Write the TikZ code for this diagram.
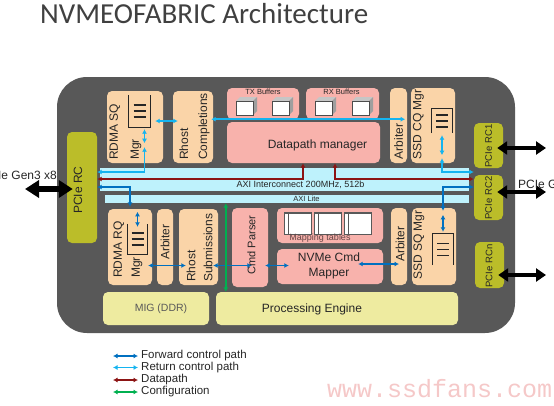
\documentclass[tikz,border=0pt]{standalone}
\usepackage{fontspec}
\setmainfont{Liberation Sans}
\newfontfamily\titlefont{Carlito}
\newfontfamily\wmfont{Liberation Mono}
\usetikzlibrary{arrows.meta,positioning,fit}
\definecolor{bodygray}{RGB}{88,88,88}
\definecolor{peach}{RGB}{250,212,168}
\definecolor{rose}{RGB}{248,178,172}
\definecolor{olive}{RGB}{187,189,41}
\definecolor{cream}{RGB}{238,235,160}
\definecolor{axiblue}{RGB}{190,242,252}
\definecolor{retblue}{RGB}{20,180,240}
\definecolor{fwdblue}{RGB}{0,112,192}
\definecolor{datred}{RGB}{140,20,20}
\definecolor{cfggreen}{RGB}{0,176,80}
\definecolor{wmpink}{RGB}{245,200,200}
\tikzstyle{blk}=[inner sep=0pt,rounded corners=5pt]
\tikzstyle{mgr}=[blk,fill=peach]
\tikzstyle{dp}=[blk,fill=rose]
\tikzstyle{rcbox}=[blk,fill=olive]
\tikzstyle{ddr}=[blk,fill=cream]
\tikzstyle{bar}=[inner sep=0pt,fill=axiblue]
\tikzstyle{qicon}=[inner sep=0pt]
\tikzstyle{lbl}=[inner sep=0pt,text=black!85]
\tikzstyle{rot}=[lbl,rotate=90,align=left]
\tikzstyle{ret}=[<->,line width=1.5pt,retblue]
\tikzstyle{fwd}=[<->,line width=1.5pt,fwdblue]
\tikzstyle{dat}=[<->,line width=1.5pt,datred]
\tikzstyle{cfg}=[<->,line width=1.5pt,cfggreen]
\tikzstyle{busL}=[line width=6pt,{Triangle[length=14pt,width=17pt]}-{Triangle[length=14pt,width=17pt]}]
\tikzstyle{busR}=[line width=4pt,{Triangle[length=10pt,width=13pt]}-{Triangle[length=10pt,width=13pt]}]
\newcommand\bufcube[2]{%
  \fill[gray!45] (#1,#2) -- ++(4,-4) -- ++(17,0) -- ++(-4,4) -- cycle;
  \fill[gray!75] (#1+17,#2) -- ++(4,-4) -- ++(0,14) -- ++(-4,4) -- cycle;
  \draw[gray!60!black,fill=white] (#1,#2) rectangle ++(17,14);
}

\begin{document}
\begin{tikzpicture}[x=1pt,y=-1pt,>={Latex[length=4.5pt,width=5pt]},font=\fontsize{12}{14}\selectfont]
\useasboundingbox (0,0) rectangle (554,405);
\clip (0,0) rectangle (554,405);
\node[anchor=base west,inner sep=0pt,text=black!75,font=\titlefont\fontsize{29}{31}\selectfont] (title) at (40,23) {NVMEOFABRIC Architecture};
\node[fit={(57,77) (515,333)},inner sep=0pt,fill=bodygray,rounded corners=30pt] (body) {};

\node[rcbox,fit={(67,132) (97,243)}] (rc) {};
\node[rcbox,fit={(474,123) (503,168)}] (rc1) {};
\node[rcbox,fit={(474,175) (503,220)}] (rc2) {};
\node[rcbox,fit={(475,242) (504,288)}] (rcn) {};

\node[mgr,fit={(107,91) (163,163)}] (sq) {};
\node[mgr,fit={(173,91) (213,163)}] (cmp) {};
\node[dp,fit={(227,88) (299,119)}] (tx) {};
\node[dp,fit={(306,88) (379,119)}] (rx) {};
\node[dp,fit={(227,122) (380,163)}] (dpm) {};
\node[mgr,fit={(390,88) (407,163)}] (arb1) {};
\node[mgr,fit={(411,88) (455,163)}] (cq) {};

\node[bar,fit={(100,168) (469,191)}] (axi) {};
\node[bar,fit={(105,195) (469,203)}] (axil) {};

\node[mgr,fit={(108,209) (152,285)}] (rq) {};
\node[mgr,fit={(157,209) (173,285)}] (arb2) {};
\node[mgr,fit={(179,209) (218,285)}] (sub) {};
\node[dp,fit={(232,208) (268,287)}] (cmd) {};
\node[dp,fit={(277,208) (383,243)}] (map) {};
\node[dp,fit={(277,249) (383,284)}] (nvm) {};
\node[mgr,fit={(391,208) (407,285)}] (arb3) {};
\node[mgr,fit={(412,208) (456,285)}] (ssq) {};
\node[ddr,fit={(103,292) (209,325)}] (mig) {};
\node[ddr,fit={(216,292) (458,325)}] (pe) {};

\node[qicon,fit={(129,95) (150,127)}] (sqq) {};
\node[qicon,fit={(432,109) (452,133)}] (cqq) {};
\node[qicon,fit={(128,224) (147,254)}] (rqq) {};
\node[qicon,fit={(433,234) (453,265)}] (ssqq) {};
\foreach \q/\a/\b in {sqq/north/south,rqq/north/south,cqq/south/north,ssqq/south/north}{
  \draw[line width=1.2pt,black!85] (\q.\a -| \q.west) -- (\q.\b -| \q.west) -- (\q.\b -| \q.east) -- (\q.\a -| \q.east);
  \foreach \d in {-6,0,6}
    \draw[line width=1.2pt,black!85] ([xshift=-6pt,yshift=\d pt]\q.center) -- ([xshift=6pt,yshift=\d pt]\q.center);
}

\bufcube{236}{101}
\bufcube{272}{101}
\bufcube{315}{101}
\bufcube{352}{101}
\foreach \x in {284,314,344}{
  \draw[gray!70!black,fill=white] (\x,212) rectangle ++(27,22);
  \draw[gray!70!black] (\x+4,212) -- ++(0,22);
  \draw[gray!70!black,line width=1pt] (\x,213) -- ++(27,0);
}

\coordinate (lret) at (0,172);
\coordinate (ldat) at (0,179);
\coordinate (lfwd) at (0,187);
\coordinate (lctl) at (0,265.5);

\draw[ret] ([xshift=-2pt]cmp.east |- tx.south) -- ([xshift=-2pt]arb1.east |- tx.south);
\draw[ret] ([xshift=-8pt,yshift=6pt]sq.east) -- ([xshift=5pt,yshift=6pt]cmp.west);
\draw[ret] ([xshift=5pt,yshift=-2pt]sqq.south) -- ([xshift=5pt,yshift=-16pt]sqq.south);
\draw[ret] ([xshift=5pt,yshift=-20pt]sqq.south) |- (rc.east |- lret);
\draw[ret] ([yshift=-2pt]cqq.south) -- ([yshift=-22pt]cqq.south);
\draw[ret] ([yshift=-25pt]cqq.south) |- (rc2.west |- lret);

\draw[dat] (rc.east |- ldat) -| ([xshift=-0.5pt]dpm.south);
\draw[dat] ([xshift=31.5pt]dpm.south) |- (rc2.west |- ldat);

\draw[fwd] (rc.east |- lfwd) -| ([yshift=2pt]rq.north);
\draw[fwd] ([yshift=12pt]rqq.north) -- ([yshift=-3pt]rqq.north);
\draw[fwd] ([xshift=-4pt]rq.east |- lctl) -- ([xshift=7pt]sub.west |- lctl);
\draw[fwd] ([xshift=-5pt]sub.east |- lctl) -- ([xshift=20pt]cmd.west |- lctl);
\draw[fwd] ([xshift=-3pt]cmd.east |- lctl) -- ([xshift=12pt]nvm.west |- lctl);
\draw[fwd] ([xshift=-25pt,yshift=1.5pt]nvm.east |- lctl) -- ([yshift=1.5pt]arb3.center |- lctl);
\draw[fwd] (rc2.west |- lfwd) -| ([yshift=-3pt]ssq.north -| ssqq.center);
\draw[fwd] ([yshift=-7pt]ssq.north -| ssqq.center) -- ([yshift=2pt]ssqq.north);

\draw[cfg] ([xshift=10pt]pe.north west) -- ([xshift=10pt]pe.north west |- axil.south);

\coordinate (hl) at (25,189);
\coordinate (h1) at (546,148);
\coordinate (h2) at (546,192);
\coordinate (hn) at (546,275);
\draw[busL] (hl) -- ([xshift=6pt]rc.west |- hl);
\draw[busR] ([xshift=-6pt]rc1.east |- h1) -- (h1);
\draw[busR] ([xshift=-6pt]rc2.east |- h2) -- (h2);
\draw[busR] ([xshift=-6pt]rcn.east |- hn) -- (hn);

\node[rot] (rct) at (78,190) {PCIe RC};
\node[rot,font=\fontsize{9.5}{11}\selectfont] (rc1t) at (488.5,146) {PCIe RC1};
\node[rot,font=\fontsize{9.5}{11}\selectfont] (rc2t) at (488.5,198) {PCIe RC2};
\node[rot,font=\fontsize{9.5}{11}\selectfont] (rcnt) at (489,266) {PCIe RCn};
\node[rot,anchor=west,font=\fontsize{12}{21}\selectfont] (sqt) at (125.5,160) {RDMA SQ\\Mgr};
\node[rot,anchor=west,font=\fontsize{12}{19}\selectfont] (cmpt) at (194.5,160) {Rhost\\Completions};
\node[rot] (arb1t) at (398.5,141.5) {Arbiter};
\node[rot] (cqt) at (418.5,124.5) {SSD CQ Mgr};
\node[rot,anchor=west,font=\fontsize{12}{18}\selectfont] (rqt) at (128,278) {RDMA RQ\\Mgr};
\node[rot] (arb2t) at (165,242) {Arbiter};
\node[rot,anchor=west,font=\fontsize{12}{17}\selectfont] (subt) at (199.5,282) {Rhost\\Submissions};
\node[rot,font=\fontsize{11}{13}\selectfont] (cmdt) at (251.5,245) {Cmd Parser};
\node[rot] (arb3t) at (400,244) {Arbiter};
\node[rot] (ssqt) at (419,245) {SSD SQ Mgr};

\node[lbl] (dpmt) at (317.5,145) {Datapath manager};
\node[lbl,align=center,font=\fontsize{12}{15}\selectfont] (nvmt) at (329,265.5) {NVMe Cmd\\Mapper};
\node[lbl] (pet) at (312,309) {Processing Engine};
\node[lbl,text=black!65,font=\fontsize{10.5}{12}\selectfont] (migt) at (161,308.5) {MIG (DDR)};
\node[lbl,font=\fontsize{9}{10}\selectfont] (axit) at (300.5,185) {AXI Interconnect 200MHz, 512b};
\node[lbl,font=\fontsize{7.5}{9}\selectfont] (axilt) at (306.5,199) {AXI Lite};
\node[lbl,font=\fontsize{7.5}{9}\selectfont] (txt) at (263,92) {TX Buffers};
\node[lbl,font=\fontsize{7.5}{9}\selectfont] (rxt) at (341.5,91.5) {RX Buffers};
\node[lbl,text={rgb,255:red,100;green,70;blue,70},font=\fontsize{9}{10}\selectfont] (mapt) at (320,238.5) {Mapping tables};
\node[lbl,anchor=east] (hostl) at (57,175) {PCIe Gen3 x8};
\node[lbl,anchor=west] (hostr) at (518,184) {PCIe Gen3 x8};

\node[lbl,anchor=west,font=\fontsize{11.5}{13}\selectfont] (l1) at (141,356) {Forward control path};
\node[lbl,anchor=west,font=\fontsize{11.5}{13}\selectfont] (l2) at (141,367.5) {Return control path};
\node[lbl,anchor=west,font=\fontsize{11.5}{13}\selectfont] (l3) at (141,380) {Datapath};
\node[lbl,anchor=west,font=\fontsize{11.5}{13}\selectfont] (l4) at (141,392) {Configuration};
\draw[fwd] ([xshift=-28pt]l1.west) -- ([xshift=-3pt]l1.west);
\draw[ret] ([xshift=-28pt]l2.west) -- ([xshift=-3pt]l2.west);
\draw[dat] ([xshift=-28pt]l3.west) -- ([xshift=-3pt]l3.west);
\draw[cfg] ([xshift=-28pt]l4.west) -- ([xshift=-3pt]l4.west);

\node[anchor=base west,inner sep=0pt,text=wmpink,font=\wmfont\fontsize{25}{25}\selectfont] (wm) at (327,397) {www.ssdfans.com};
\end{tikzpicture}
\end{document}
